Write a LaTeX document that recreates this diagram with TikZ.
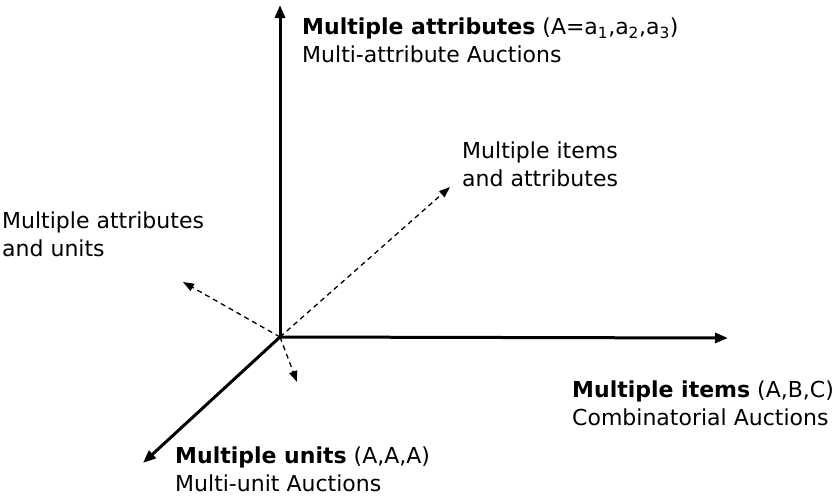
\documentclass[tikz,border=0pt]{standalone}
\usepackage{fontspec}
\setmainfont{DejaVu Sans}
\usetikzlibrary{arrows.meta}

\begin{document}
\begin{tikzpicture}[
        x=1pt, y=-1pt,
        axis/.style={-{Triangle[length=13pt, width=10pt]}, line width=3pt},
        diagaxis/.style={-{Triangle[length=11pt, width=8pt]}, line width=1.3pt, dashed, dash pattern=on 5pt off 4pt},
        label/.style={anchor=base west, inner sep=0pt, align=left, font=\fontsize{22}{28}\selectfont}
    ]
        \useasboundingbox (0,0) rectangle (839,498);

        \coordinate (origin) at (280,337);
        \coordinate (attrtip) at (280,5);
        \coordinate (itemtip) at (728,338);
        \coordinate (unittip) at (143,463);
        \coordinate (itemattr) at (450,187);
        \coordinate (attrunit) at (183,282);
        \coordinate (itemunit) at (297,382);

        \draw[axis] (origin) -- (attrtip);
        \draw[axis] (origin) -- (itemtip);
        \draw[axis] (origin) -- (unittip);
        \draw[diagaxis] (origin) -- (itemattr);
        \draw[diagaxis] (origin) -- (attrunit);
        \draw[diagaxis] (origin) -- (itemunit);

        % base anchor sits on the last line
        \node[label] (attrlbl) at (302,62) {\textbf{Multiple attributes} (A=a\textsubscript{1},a\textsubscript{2},a\textsubscript{3})\\Multi-attribute Auctions};
        \node[label] (itemattrlbl) at (462,186) {Multiple items\\and attributes};
        \node[label] (attrunitlbl) at (2,256) {Multiple attributes\\and units};
        \node[label] (itemlbl) at (572,425) {\textbf{Multiple items} (A,B,C)\\Combinatorial Auctions};
        \node[label] (unitlbl) at (175,491) {\textbf{Multiple units} (A,A,A)\\Multi-unit Auctions};
    \end{tikzpicture}
\end{document}
